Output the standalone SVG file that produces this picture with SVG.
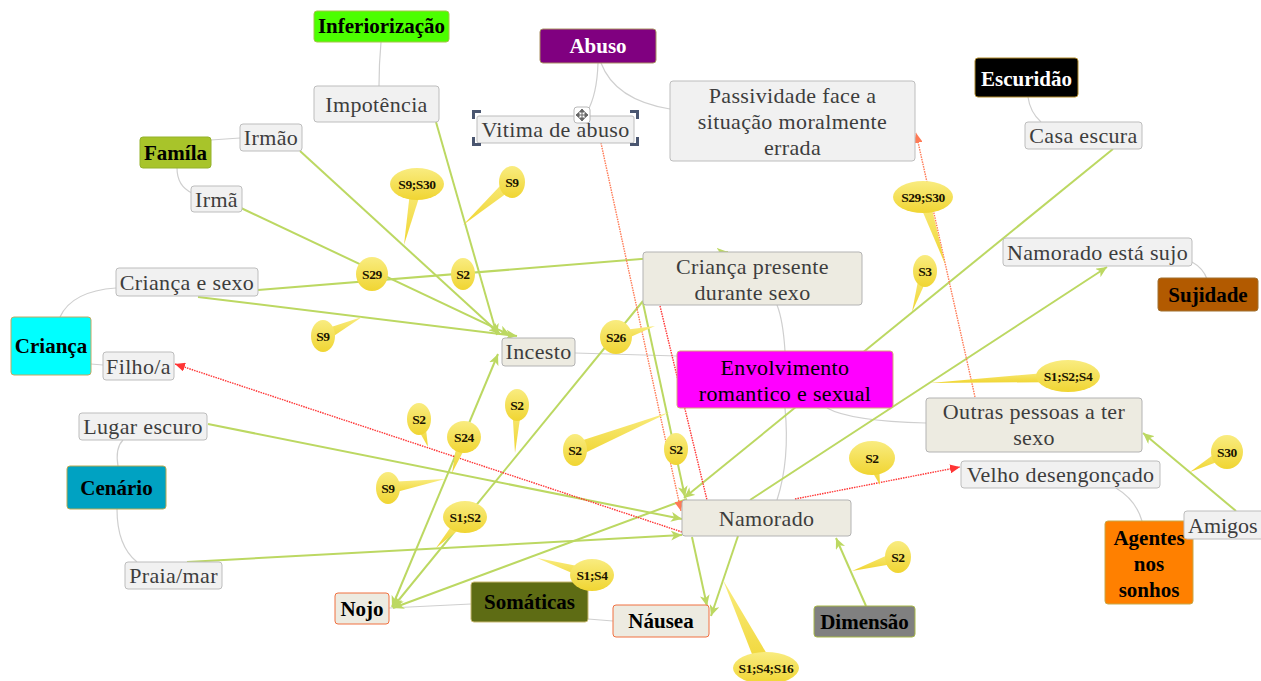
<svg xmlns="http://www.w3.org/2000/svg" width="1261" height="681" viewBox="0 0 1261 681">
<defs>
<style>
.t{font-family:"Liberation Serif","Times New Roman",serif;font-size:22px;fill:#3d3d3d;text-anchor:middle;letter-spacing:0.35px}
.b{font-family:"Liberation Serif","Times New Roman",serif;font-size:21px;font-weight:bold;fill:#000;text-anchor:middle}
.wt{fill:#fff}
.sub{fill:#f1f1f1;stroke:#bdbdbd;stroke-width:1}
.bei{fill:#edebe1;stroke:#b3b3b3;stroke-width:1}
.org{fill:#edebe1;stroke:#f07040;stroke-width:1}
.g{fill:none;stroke:#bcd862;stroke-width:2;marker-end:url(#ag)}
.tree{fill:none;stroke:#cfcfcf;stroke-width:1.2}
.r{fill:none;stroke:#ff3535;stroke-width:1.4;stroke-dasharray:1.5 1;marker-end:url(#ar)}
.o{fill:none;stroke:#ff7a55;stroke-width:1.4;stroke-dasharray:1.5 1;marker-end:url(#ao)}
.cl{fill:url(#yg)}
.ct{font-family:"Liberation Serif","Times New Roman",serif;font-size:13.5px;font-weight:bold;fill:#1a1400;text-anchor:middle;letter-spacing:-0.4px}
.hd{fill:#4a5670}
</style>
<linearGradient id="yg" x1="0" y1="0" x2="0" y2="1">
<stop offset="0" stop-color="#f9ec80"/>
<stop offset="1" stop-color="#f0d532"/>
</linearGradient>
<marker id="ag" markerUnits="userSpaceOnUse" markerWidth="12" markerHeight="10" refX="11" refY="5" orient="auto-start-reverse">
<path d="M0,0 L11,5 L0,10 L3,5 z" fill="#bcd862"/>
</marker>
<marker id="ar" markerUnits="userSpaceOnUse" markerWidth="11" markerHeight="9" refX="10" refY="4.5" orient="auto">
<path d="M0,0 L10,4.5 L0,9 z" fill="#ff3535"/>
</marker>
<marker id="ao" markerUnits="userSpaceOnUse" markerWidth="11" markerHeight="9" refX="10" refY="4.5" orient="auto">
<path d="M0,0 L10,4.5 L0,9 z" fill="#ff7a55"/>
</marker>
</defs>
<rect width="1261" height="681" fill="#fff"/>

<g id="connectors">
<g id="tree-lines">
<path class="tree" d="M381,42 Q379,64 379,86"/>
<path class="tree" d="M598,63 Q597,95 587,112"/>
<path class="tree" d="M601,63 Q615,100 670,109"/>
<path class="tree" d="M1028,97 Q1030,112 1041,122"/>
<path class="tree" d="M211,140 L240,138"/>
<path class="tree" d="M177,168 Q177,186 192,193"/>
<path class="tree" d="M60,317 Q72,291 116,288"/>
<path class="tree" d="M91,364 L103,365"/>
<path class="tree" d="M118,466 Q115,448 123,440"/>
<path class="tree" d="M117,509 Q117,546 137,562"/>
<path class="tree" d="M575,353 L677,356"/>
<path class="tree" d="M785,351 Q783,320 777,305"/>
<path class="tree" d="M785,408 Q790,460 777,500"/>
<path class="tree" d="M827,408 Q850,421 926,423"/>
<path class="tree" d="M1192,262 Q1203,268 1207,279"/>
<path class="tree" d="M1116,488 Q1136,500 1142,521"/>
<path class="tree" d="M389,608 L471,604"/>
<path class="tree" d="M588,619 L613,621"/>
</g>
<g id="relations">
<path class="g" d="M436,122 L497,335"/>
<path class="g" d="M300,151 L500,334"/>
<path class="g" d="M241,208 L510,335"/>
<path class="g" d="M198,297 L517,336"/>
<path class="g" d="M258,290 L728,252"/>
<path class="g" d="M392,607 L498,354" style="marker-start:url(#ag)"/>
<path class="g" d="M643,301 L393,607"/>
<path class="g" d="M687,499 L393,608"/>
<path class="g" d="M643,303 L685,497"/>
<path class="g" d="M1113,149 L684,498"/>
<path class="g" d="M750,500 L1107,267"/>
<path class="g" d="M692,537 L707,606"/>
<path class="g" d="M738,536 L711,616"/>
<path class="g" d="M208,424 L682,519"/>
<path class="g" d="M187,562 L682,535"/>
<path class="g" d="M866,606 L836,538"/>
<path class="g" d="M1236,511 L1143,433"/>
<path class="o" d="M601,143 L681,511"/>
<path class="r" d="M660,306 L707,500" style="marker-end:none"/>
<path class="r" d="M682,532 L175,364"/>
<path class="r" d="M795,499 L960,467"/>
<path class="o" d="M975,397 L916,133"/>
</g>
</g>

<g id="n-inferiorizacao"><rect x="314" y="11" width="135" height="31" rx="3" fill="#4cff00" stroke="#a6c44a"/><text class="b" x="381.5" y="33">Inferiorização</text></g>
<g id="n-impotencia"><rect class="sub" x="314" y="86" width="125" height="36" rx="3"/><text class="t" x="376.5" y="112">Impotência</text></g>
<g id="n-abuso"><rect x="540" y="29" width="116" height="34" rx="3" fill="#800080" stroke="#a89060"/><text class="b wt" x="598" y="53">Abuso</text></g>
<g id="n-vitima"><rect class="sub" x="477" y="116" width="157" height="27" rx="2" stroke="#9a9a9a"/><text class="t" x="555.5" y="137">Vitima de abuso</text>
<path class="hd" d="M472,110 h9 v3 h-6 v6 h-3 z"/>
<path class="hd" d="M639,110 h-9 v3 h6 v6 h3 z"/>
<path class="hd" d="M472,146 h9 v-3 h-6 v-6 h-3 z"/>
<path class="hd" d="M639,146 h-9 v-3 h6 v-6 h3 z"/>
<rect x="574" y="107" width="16" height="16" rx="3" fill="#fff" stroke="#b8b8b8"/>
<path d="M582,109 l2.5,3 h-5 z M582,121 l2.5,-3 h-5 z M576,115 l3,-2.5 v5 z M588,115 l-3,-2.5 v5 z M582,111 v8 M578,115 h8" fill="#666" stroke="#666" stroke-width="1"/>
</g>
<g id="n-passividade"><rect class="sub" x="670" y="81" width="245" height="80" rx="3"/><text class="t" x="792.5" y="103">Passividade face a</text><text class="t" x="792.5" y="129">situação moralmente</text><text class="t" x="792.5" y="155">errada</text></g>
<g id="n-escuridao"><rect x="975" y="58" width="103" height="39" rx="3" fill="#000" stroke="#b08a2a"/><text class="b wt" x="1026.5" y="86">Escuridão</text></g>
<g id="n-casaescura"><rect class="sub" x="1025" y="122" width="117" height="27" rx="3"/><text class="t" x="1083.5" y="143">Casa escura</text></g>
<g id="n-familia"><rect x="140" y="137" width="71" height="31" rx="3" fill="#a8c42a" stroke="#94b22a"/><text class="b" x="175.5" y="160">Famíla</text></g>
<g id="n-irmao"><rect class="sub" x="240" y="124" width="62" height="27" rx="3"/><text class="t" x="271" y="145">Irmão</text></g>
<g id="n-irma"><rect class="sub" x="191" y="186" width="51" height="26" rx="3"/><text class="t" x="216.5" y="207">Irmã</text></g>
<g id="n-criancasexo"><rect class="sub" x="116" y="268" width="142" height="28" rx="3"/><text class="t" x="187" y="290">Criança e sexo</text></g>
<g id="n-crianca"><rect x="11" y="317" width="80" height="58" rx="3" fill="#00ffff" stroke="#c4a860"/><text class="b" x="51" y="353">Criança</text></g>
<g id="n-filho"><rect class="sub" x="103" y="352" width="71" height="28" rx="3"/><text class="t" x="138.5" y="374">Filho/a</text></g>
<g id="n-lugarescuro"><rect class="sub" x="79" y="413" width="128" height="27" rx="3"/><text class="t" x="143" y="434">Lugar escuro</text></g>
<g id="n-cenario"><rect x="67" y="466" width="99" height="43" rx="3" fill="#00a2c2" stroke="#b8a850"/><text class="b" x="116.5" y="495">Cenário</text></g>
<g id="n-praia"><rect class="sub" x="125" y="562" width="97" height="27" rx="3"/><text class="t" x="173.5" y="583">Praia/mar</text></g>
<g id="n-incesto"><rect class="bei" x="502" y="338" width="73" height="28" rx="3"/><text class="t" x="538.5" y="359">Incesto</text></g>
<g id="n-criancapresente"><rect class="bei" x="643" y="252" width="219" height="53" rx="3"/><text class="t" x="752.5" y="274">Criança presente</text><text class="t" x="752.5" y="300">durante sexo</text></g>
<g id="n-envolvimento"><rect x="677" y="351" width="216" height="57" rx="3" fill="#ff00ff" stroke="#d8a878"/><text class="t" x="785" y="375" style="fill:#000">Envolvimento</text><text class="t" x="785" y="401" style="fill:#000">romantico e sexual</text></g>
<g id="n-namoradosujo"><rect class="sub" x="1003" y="238" width="189" height="28" rx="3"/><text class="t" x="1097.5" y="260">Namorado está sujo</text></g>
<g id="n-sujidade"><rect x="1158" y="278" width="100" height="33" rx="3" fill="#b25a00" stroke="#a07030"/><text class="b" x="1208" y="302">Sujidade</text></g>
<g id="n-outras"><rect class="bei" x="926" y="398" width="216" height="54" rx="3"/><text class="t" x="1034" y="419">Outras pessoas a ter</text><text class="t" x="1034" y="445">sexo</text></g>
<g id="n-velho"><rect class="sub" x="961" y="461" width="199" height="27" rx="3"/><text class="t" x="1060.5" y="482">Velho desengonçado</text></g>
<g id="n-agentes"><rect x="1105" y="521" width="88" height="83" rx="3" fill="#ff8000" stroke="#c8a848"/><text class="b" x="1149" y="545">Agentes</text><text class="b" x="1149" y="571">nos</text><text class="b" x="1149" y="597">sonhos</text></g>
<g id="n-amigos"><rect class="sub" x="1184" y="511" width="84" height="28" rx="3"/><text class="t" x="1188" y="533" style="text-anchor:start;letter-spacing:0">Amigos</text></g>
<g id="n-namorado"><rect class="bei" x="682" y="500" width="169" height="36" rx="3"/><text class="t" x="766.5" y="526">Namorado</text></g>
<g id="n-nojo"><rect class="org" x="335" y="593" width="54" height="31" rx="3"/><text class="b" x="362" y="616">Nojo</text></g>
<g id="n-somaticas"><rect x="471" y="582" width="117" height="40" rx="3" fill="#5e6c14" stroke="#c8b870"/><text class="b" x="529.5" y="609">Somáticas</text></g>
<g id="n-nausea"><rect class="org" x="613" y="605" width="96" height="32" rx="3"/><text class="b" x="661" y="628">Náusea</text></g>
<g id="n-dimensao"><rect x="814" y="606" width="101" height="31" rx="3" fill="#808080" stroke="#a8b848"/><text class="b" x="864.5" y="629">Dimensão</text></g>

<g id="callouts">
<g id="c1"><polygon class="cl" points="423,185 404,245 411,183"/><ellipse class="cl" cx="417" cy="184" rx="27" ry="16"/><text class="ct" x="417" y="189">S9;S30</text></g>
<g id="c2"><polygon class="cl" points="516,186.5 463,225 508,177.5"/><ellipse class="cl" cx="512" cy="182" rx="13" ry="16"/><text class="ct" x="512" y="187">S9</text></g>
<g id="c3"><ellipse class="cl" cx="372" cy="274" rx="16" ry="17"/><text class="ct" x="372" y="279">S29</text></g>
<g id="c4"><ellipse class="cl" cx="463" cy="274" rx="12" ry="16"/><text class="ct" x="463" y="279">S2</text></g>
<g id="c5"><polygon class="cl" points="325.6,341.4 362,317 320.4,330.6"/><ellipse class="cl" cx="323" cy="336" rx="12" ry="16"/><text class="ct" x="323" y="341">S9</text></g>
<g id="c6"><polygon class="cl" points="617.6,342.8 655,326 614.4,331.2"/><ellipse class="cl" cx="616" cy="337" rx="16" ry="17"/><text class="ct" x="616" y="342">S26</text></g>
<g id="c7"><polygon class="cl" points="522,405 515,453 512,405"/><ellipse class="cl" cx="517" cy="405" rx="12" ry="16"/><text class="ct" x="517" y="410">S2</text></g>
<g id="c8"><polygon class="cl" points="424.7,417.2 428,447 413.3,420.8"/><ellipse class="cl" cx="419" cy="419" rx="12" ry="16"/><text class="ct" x="419" y="424">S2</text></g>
<g id="c9"><polygon class="cl" points="469.7,438.9 452,473 458.3,435.1"/><ellipse class="cl" cx="464" cy="437" rx="17" ry="16"/><text class="ct" x="464" y="442">S24</text></g>
<g id="c10"><polygon class="cl" points="389,494 445,479 387,482"/><ellipse class="cl" cx="388" cy="488" rx="12" ry="16"/><text class="ct" x="388" y="493">S9</text></g>
<g id="c11"><polygon class="cl" points="469.4,521.1 436,548 460.6,512.9"/><ellipse class="cl" cx="465" cy="517" rx="22" ry="16"/><text class="ct" x="465" y="522">S1;S2</text></g>
<g id="c12"><polygon class="cl" points="577.6,456.5 670,412 572.4,443.5"/><ellipse class="cl" cx="575" cy="450" rx="12" ry="16"/><text class="ct" x="575" y="455">S2</text></g>
<g id="c13"><ellipse class="cl" cx="676" cy="449" rx="12" ry="16"/><text class="ct" x="676" y="454">S2</text></g>
<g id="c14"><polygon class="cl" points="878.7,456 880,485 865.3,460"/><ellipse class="cl" cx="872" cy="458" rx="23" ry="17"/><text class="ct" x="872" y="463">S2</text></g>
<g id="c15"><polygon class="cl" points="929.8,272.5 912,312 920.2,269.5"/><ellipse class="cl" cx="925" cy="271" rx="12" ry="16"/><text class="ct" x="925" y="276">S3</text></g>
<g id="c16"><polygon class="cl" points="928.7,195.1 945,264 917.3,198.9"/><ellipse class="cl" cx="923" cy="197" rx="30" ry="16"/><text class="ct" x="923" y="202">S29;S30</text></g>
<g id="c17"><polygon class="cl" points="1068,382 930,383 1068,371"/><ellipse class="cl" cx="1068" cy="376" rx="32" ry="16"/><text class="ct" x="1068" y="381">S1;S2;S4</text></g>
<g id="c18"><polygon class="cl" points="1229.9,457.3 1190,472 1224.1,446.7"/><ellipse class="cl" cx="1227" cy="452" rx="16" ry="17"/><text class="ct" x="1227" y="457">S30</text></g>
<g id="c19"><polygon class="cl" points="899.7,562.7 852,571 896.3,551.3"/><ellipse class="cl" cx="898" cy="557" rx="13" ry="16"/><text class="ct" x="898" y="562">S2</text></g>
<g id="c20"><polygon class="cl" points="590.2,580.7 537,558 593.8,569.3"/><ellipse class="cl" cx="592" cy="575" rx="22" ry="16"/><text class="ct" x="592" y="580">S1;S4</text></g>
<g id="c21"><polygon class="cl" points="758.8,671.5 723,580 773.2,664.5"/><ellipse class="cl" cx="766" cy="668" rx="33" ry="16"/><text class="ct" x="766" y="673">S1;S4;S16</text></g>
</g>
</svg>
